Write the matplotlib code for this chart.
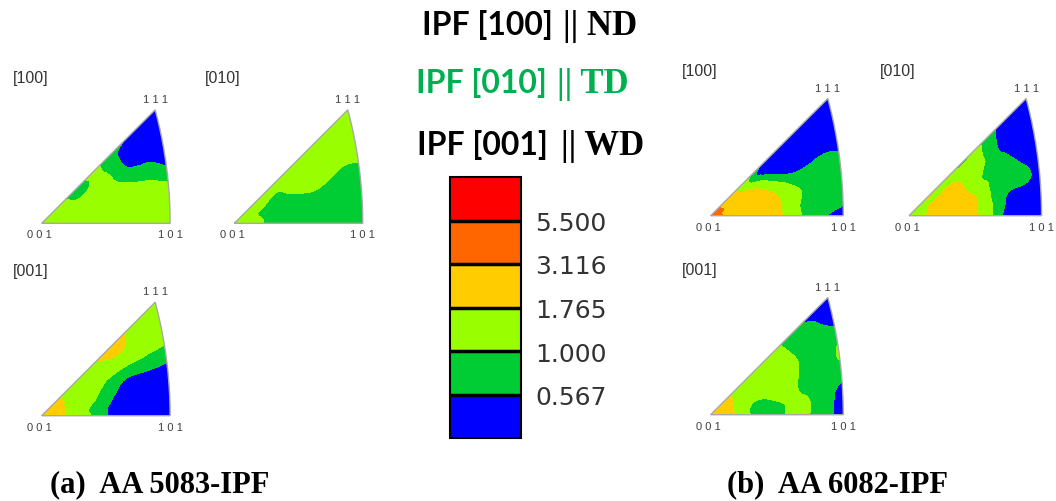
import numpy as np
import matplotlib.pyplot as plt
import matplotlib.tri as mtri
from matplotlib.path import Path
from matplotlib.patches import PathPatch
from matplotlib.ticker import FormatStrFormatter

W, H = 1056, 502

# contour classes (multiples of random density)
levels = [0, 0.567, 1.0, 1.765, 3.116, 5.5, 100]
level_colors = ['#0000ff', '#00cc33', '#99ff00', '#ffcc00', '#ff6600', '#ff0000']
tick_values = [0.567, 1.0, 1.765, 3.116, 5.5]

# sample grid inside the standard triangle:
# azimuth from 001-101 edge, and fraction of the way out to the 101-111 arc
phi_deg = [0, 9, 18, 27, 36, 45]
r_frac = [1/6, 2/6, 3/6, 4/6, 5/6, 1.0]

# intensities (rows = azimuth, cols = radius), value at 001 separate
a5083_100_center = 1.3
a5083_100 = [[1.3, 1.3, 1.3, 1.3, 1.3, 1.3],
             [1.3, 1.3, 1.3, 1.3, 1.3, 1.3],
             [1.3, 1.3, 1.3, 1.3, 1.2, 1.0],
             [1.3, 1.3, 1.3, 0.95, 0.72, 0.45],
             [1.3, 0.9, 1.15, 0.6, 0.45, 0.35],
             [1.15, 0.8, 1.05, 0.6, 0.4, 0.35]]

a5083_010_center = 1.3
a5083_010 = [[1.1, 0.8, 0.8, 0.8, 0.8, 0.8],
             [1.1, 0.8, 0.8, 0.8, 0.8, 0.8],
             [1.05, 0.8, 0.8, 0.8, 0.75, 0.8],
             [1.1, 0.85, 1.05, 1.2, 1.0, 1.05],
             [1.2, 1.0, 1.3, 1.3, 1.3, 1.3],
             [0.95, 1.3, 1.3, 1.3, 1.3, 1.3]]

a5083_001_center = 2.2
a5083_001 = [[1.8, 1.2, 0.6, 0.4, 0.4, 0.4],
             [1.8, 1.15, 0.62, 0.4, 0.4, 0.4],
             [1.8, 1.3, 0.8, 0.45, 0.4, 0.4],
             [1.8, 1.3, 1.0, 0.75, 0.8, 0.8],
             [1.8, 1.3, 1.3, 1.5, 1.3, 1.3],
             [1.7, 1.3, 1.85, 2.1, 1.3, 1.3]]

a6082_100_center = 4.0
a6082_100 = [[2.6, 2.2, 2.0, 1.1, 0.62, 0.4],
             [2.5, 2.2, 1.9, 1.05, 0.75, 0.7],
             [2.3, 2.2, 1.75, 1.0, 0.8, 0.75],
             [2.8, 2.2, 1.1, 0.57, 0.62, 0.55],
             [2.4, 1.3, 0.4, 0.35, 0.35, 0.35],
             [2.2, 1.0, 0.4, 0.35, 0.35, 0.35]]

a6082_010_center = 1.3
a6082_010 = [[1.9, 2.2, 1.9, 0.75, 0.4, 0.35],
             [1.9, 2.2, 1.85, 0.8, 0.4, 0.35],
             [1.9, 2.2, 1.7, 0.8, 0.65, 0.4],
             [1.8, 2.2, 1.3, 0.9, 0.6, 0.4],
             [1.6, 1.8, 1.3, 0.8, 0.4, 0.35],
             [1.9, 1.3, 0.95, 0.8, 0.4, 0.35]]

a6082_001_center = 2.2
a6082_001 = [[1.9, 0.8, 0.8, 1.1, 0.8, 0.4],
             [1.8, 0.85, 0.9, 1.1, 0.8, 0.45],
             [1.8, 1.05, 1.2, 1.0, 0.8, 0.75],
             [1.8, 1.3, 1.3, 1.05, 0.8, 1.05],
             [1.8, 1.3, 1.3, 1.0, 0.8, 0.5],
             [1.75, 1.3, 1.3, 0.8, 0.5, 0.35]]

fig = plt.figure(figsize=(W / 100, H / 100), dpi=100)
fig.patch.set_facecolor('white')


def fig_text(x, y, s, **kw):
    fig.text(x / W, 1 - y / H, s, **kw)


def arc_radius(phi):
    t = np.tan(phi)
    return np.sqrt(1 + t ** 2) / (np.sqrt(2 + t ** 2) + 1)


# outline of the stereographic triangle 001-101-111
tt = np.linspace(0, 1, 80)
nn = np.sqrt(2 + tt ** 2)
outline = [(0, 0)] + list(zip(1 / (nn + 1), tt / (nn + 1))) + [(0, 0)]
v111 = 1 / (np.sqrt(3) + 1)
v101 = 1 / (np.sqrt(2) + 1)


def draw_ipf(ox, oy, s, center, grid, label):
    xmin, xmax, ymin, ymax = -0.02, 0.45, -0.02, 0.40
    ax = fig.add_axes([(ox + s * xmin) / W, (H - oy + s * ymin) / H,
                       s * (xmax - xmin) / W, s * (ymax - ymin) / H])
    ax.set_xlim(xmin, xmax)
    ax.set_ylim(ymin, ymax)
    ax.axis('off')

    phi = np.radians(phi_deg)
    P, RF = np.meshgrid(phi, r_frac, indexing='ij')
    rad = RF * arc_radius(P)
    x = np.concatenate([[0], (rad * np.cos(P)).ravel()])
    y = np.concatenate([[0], (rad * np.sin(P)).ravel()])
    z = np.concatenate([[center], np.asarray(grid, float).ravel()])

    nphi, nr = len(phi_deg), len(r_frac)
    idx = lambda i, j: 1 + i * nr + j
    tris = []
    for i in range(nphi - 1):
        tris.append([0, idx(i, 0), idx(i + 1, 0)])
        for j in range(nr - 1):
            tris.append([idx(i, j), idx(i, j + 1), idx(i + 1, j + 1)])
            tris.append([idx(i, j), idx(i + 1, j + 1), idx(i + 1, j)])
    tri = mtri.Triangulation(x, y, tris)
    interp = mtri.CubicTriInterpolator(tri, z, kind='min_E')
    tri_f, z_f = mtri.UniformTriRefiner(tri).refine_field(z, triinterpolator=interp, subdiv=4)
    cs = ax.tricontourf(tri_f, z_f, levels=levels, colors=level_colors)

    patch = PathPatch(Path(outline), transform=ax.transData,
                      facecolor='none', edgecolor='#a8a8a8', lw=1.0, zorder=3)
    ax.add_patch(patch)
    cs.set_clip_path(patch)

    lab = dict(family='Liberation Sans', size=8, color='#404040', ha='center', va='center')
    fig_text(ox + s * v111, oy - s * v111 - 11, '1 1 1', **lab)
    fig_text(ox - 2, oy + 11, '0 0 1', **lab)
    fig_text(ox + s * v101, oy + 11, '1 0 1', **lab)
    fig_text(ox - 29, oy - 141, label, family='Liberation Sans', size=11.5,
             color='#333333', ha='left', va='baseline')
    return cs


cs0 = draw_ipf(41.7, 224.3, 310, a5083_100_center, a5083_100, '[100]')
draw_ipf(234.3, 224.3, 310, a5083_010_center, a5083_010, '[010]')
draw_ipf(41.7, 416.7, 310, a5083_001_center, a5083_001, '[001]')
draw_ipf(710.7, 216.7, 320, a6082_100_center, a6082_100, '[100]')
draw_ipf(909.0, 216.7, 320, a6082_010_center, a6082_010, '[010]')
draw_ipf(710.7, 415.7, 320, a6082_001_center, a6082_001, '[001]')

# colour key
cax = fig.add_axes([450 / W, 1 - 439 / H, 71 / W, 261 / H])
cb = fig.colorbar(cs0, cax=cax, ticks=tick_values, drawedges=True)
cb.ax.yaxis.set_major_formatter(FormatStrFormatter('%.3f'))
cb.ax.tick_params(length=0, pad=10, labelsize=18, labelcolor='#333333')
for t in cb.ax.get_yticklabels():
    t.set_family('DejaVu Sans')
cb.outline.set_linewidth(1.5)
cb.dividers.set_linewidth(2.5)

# headings
headings = [('IPF [100]', '|| ND', 'black', 553, 563, 35),
            ('IPF [010]', '|| TD', '#00b050', 547, 557, 93),
            ('IPF [001]', '|| WD', 'black', 548, 561, 155)]
for sans, serif, col, xs, xr, yb in headings:
    fig_text(xs, yb, sans, family='Lato', weight='bold', size=23, color=col,
             ha='right', va='baseline')
    fig_text(xr, yb, serif, family='Liberation Serif', weight='bold', size=25,
             color=col, ha='left', va='baseline')

fig_text(50, 492, '(a)  AA 5083-IPF', family='Liberation Serif', weight='bold',
         size=22, va='baseline')
fig_text(727, 492, '(b)  AA 6082-IPF', family='Liberation Serif', weight='bold',
         size=22, va='baseline')

fig.savefig('out.png', dpi=100, facecolor='white')
